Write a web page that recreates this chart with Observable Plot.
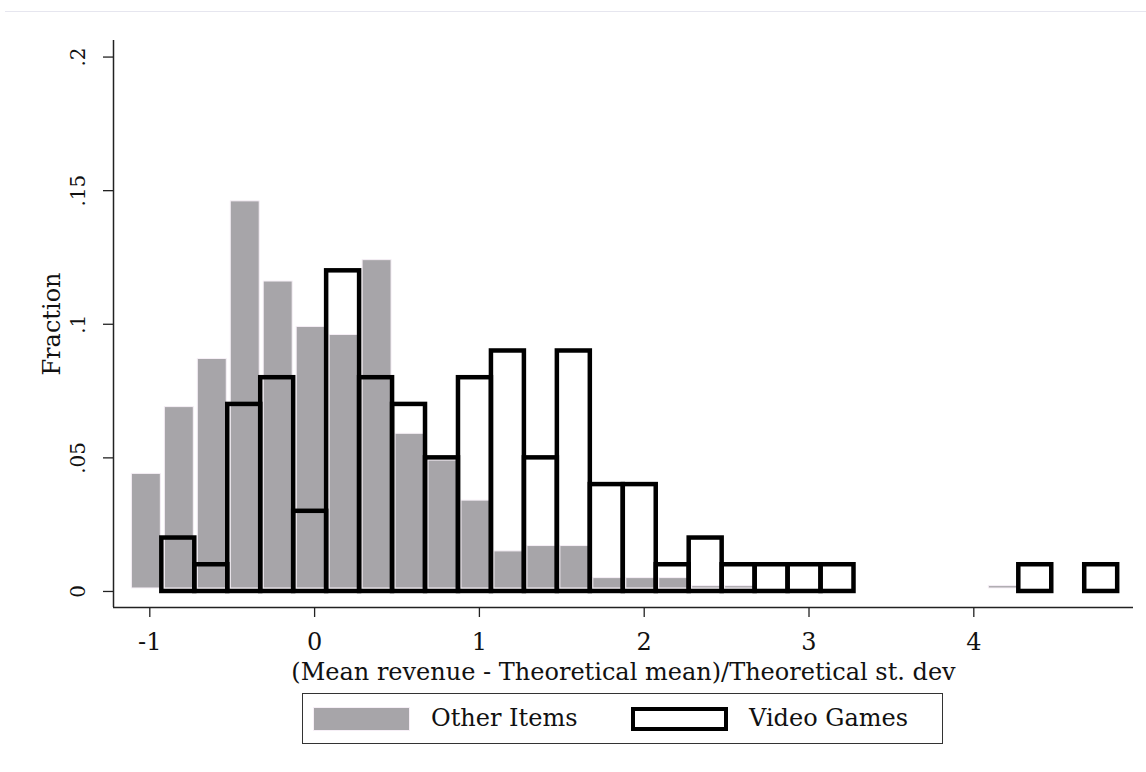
<!DOCTYPE html>
<html>
<head>
<meta charset="utf-8">
<script src="https://cdn.jsdelivr.net/npm/d3@7"></script>
<script src="https://cdn.jsdelivr.net/npm/@observablehq/plot@0.6"></script>
<style>
  body { margin: 0; background: #fff; font-family: "DejaVu Serif", serif; }
  #wrap { position: relative; width: 1146px; height: 772px; overflow: hidden; }
  #topline { position: absolute; left: 5px; right: 0; top: 11px; height: 1px; background: #e6e6ef; }
  #chart svg { display: block; }
  #legend { position: absolute; left: 302px; top: 693px; width: 641px; height: 51px;
            border: 1px solid #333; box-sizing: border-box; background: #fff; }
  .sw { position: absolute; top: 13px; width: 97px; height: 24px; box-sizing: border-box; }
  .lt { position: absolute; top: 0; height: 49px; line-height: 49px; font-size: 24px; color: #111; white-space: nowrap; }
</style>
</head>
<body>
<div id="wrap">
  <div id="topline"></div>
  <div id="chart"></div>
  <div id="legend"></div>
</div>
<script>
// Bin edges (width 0.2) shared by both histograms
const binEdges = [-1.127, -0.927, -0.727, -0.527, -0.327, -0.127, 0.073, 0.273, 0.473, 0.673,
                  0.873, 1.073, 1.273, 1.473, 1.673, 1.873, 2.073, 2.273, 2.473, 2.673,
                  2.873, 3.073, 3.273, 3.473, 3.673, 3.873, 4.073, 4.273, 4.473, 4.673, 4.873];

// "Other Items" fractions, bins starting at binEdges[0]
const otherItems = [0.044, 0.069, 0.087, 0.146, 0.116, 0.099, 0.096, 0.124, 0.059, 0.049,
                    0.034, 0.015, 0.017, 0.017, 0.005, 0.005, 0.005, 0.002, 0.002, 0,
                    0, 0, 0, 0, 0, 0, 0.002];

// "Video Games" fractions, bins starting at binEdges[1]
const videoGames = [0.02, 0.01, 0.07, 0.08, 0.03, 0.12, 0.08, 0.07, 0.05, 0.08,
                    0.09, 0.05, 0.09, 0.04, 0.04, 0.01, 0.02, 0.01, 0.01, 0.01,
                    0.01, 0, 0, 0, 0, 0, 0.01, 0, 0.01];

const seriesNames = ["Other Items", "Video Games"];
const xTicks = [-1, 0, 1, 2, 3, 4];
const yTicks = [0, 0.05, 0.1, 0.15, 0.2];
const xTitle = "(Mean revenue - Theoretical mean)/Theoretical st. dev";
const yTitle = "Fraction";
const xDomain = [-1.2203, 4.969];
const yDomain = [-0.006, 0.2062];

const otherData = otherItems.map((v, i) => ({x1: binEdges[i], x2: binEdges[i + 1], v})).filter(d => d.v > 0);
const videoData = videoGames.map((v, i) => ({x1: binEdges[i + 1], x2: binEdges[i + 2], v})).filter(d => d.v > 0);

const yFmt = d => d === 0 ? "0" : String(d).replace(/^0\./, ".");
const xFmt = d => d < 0 ? "-" + Math.abs(d) : String(d);

const chart = Plot.plot({
  width: 1146,
  height: 690,
  marginLeft: 113,
  marginRight: 13,
  marginTop: 40,
  marginBottom: 83,
  style: {fontFamily: "DejaVu Serif, serif", fontSize: "24px", background: "white", color: "#111"},
  x: {domain: xDomain},
  y: {domain: yDomain},
  marks: [
    Plot.rectY(otherData, {x1: "x1", x2: "x2", y1: 0, y2: "v", fill: "#a7a5a9",
      stroke: "#f6eff6", strokeWidth: 1, insetLeft: 3, insetRight: 1, insetBottom: 3}),
    Plot.rectY(videoData, {x1: "x1", x2: "x2", y1: 0, y2: "v", fill: "none",
      stroke: "#000", strokeWidth: 4.5, strokeLinejoin: "miter"}),
    Plot.ruleX([xDomain[0]], {stroke: "#222", strokeWidth: 1.5}),
    Plot.ruleY([yDomain[0]], {stroke: "#222", strokeWidth: 1.5}),
    Plot.axisY({ticks: yTicks, tickSize: 10, tickFormat: () => "", label: null, stroke: "#222", strokeWidth: 1.3}),
    Plot.text(yTicks, {frameAnchor: "left", y: d => d, text: yFmt, rotate: -90, dx: -35,
      fontSize: 20, textAnchor: "middle", lineAnchor: "middle", fill: "#111"}),
    Plot.axisX({ticks: xTicks, tickSize: 10, tickPadding: 15, tickFormat: xFmt, label: null,
      fontSize: 24, stroke: "#222", strokeWidth: 1.3, color: "#111"}),
    Plot.text([yTitle], {frameAnchor: "left", rotate: -90, dx: -61, fontSize: 24,
      textAnchor: "middle", lineAnchor: "middle", fill: "#111"}),
    Plot.text([xTitle], {frameAnchor: "bottom", dy: 65, fontSize: 24,
      textAnchor: "middle", lineAnchor: "middle", fill: "#111"})
  ]
});
document.getElementById("chart").appendChild(chart);

// Legend
const legend = document.getElementById("legend");
const sw1 = document.createElement("div");
sw1.className = "sw";
sw1.style.left = "10px";
sw1.style.background = "#a7a5a9";
sw1.style.border = "1px solid #f6eff6";
legend.appendChild(sw1);
const t1 = document.createElement("div");
t1.className = "lt"; t1.style.left = "128px"; t1.textContent = seriesNames[0];
legend.appendChild(t1);
const sw2 = document.createElement("div");
sw2.className = "sw";
sw2.style.left = "328px";
sw2.style.border = "4px solid #000";
legend.appendChild(sw2);
const t2 = document.createElement("div");
t2.className = "lt"; t2.style.left = "446px"; t2.textContent = seriesNames[1];
legend.appendChild(t2);
</script>
</body>
</html>
